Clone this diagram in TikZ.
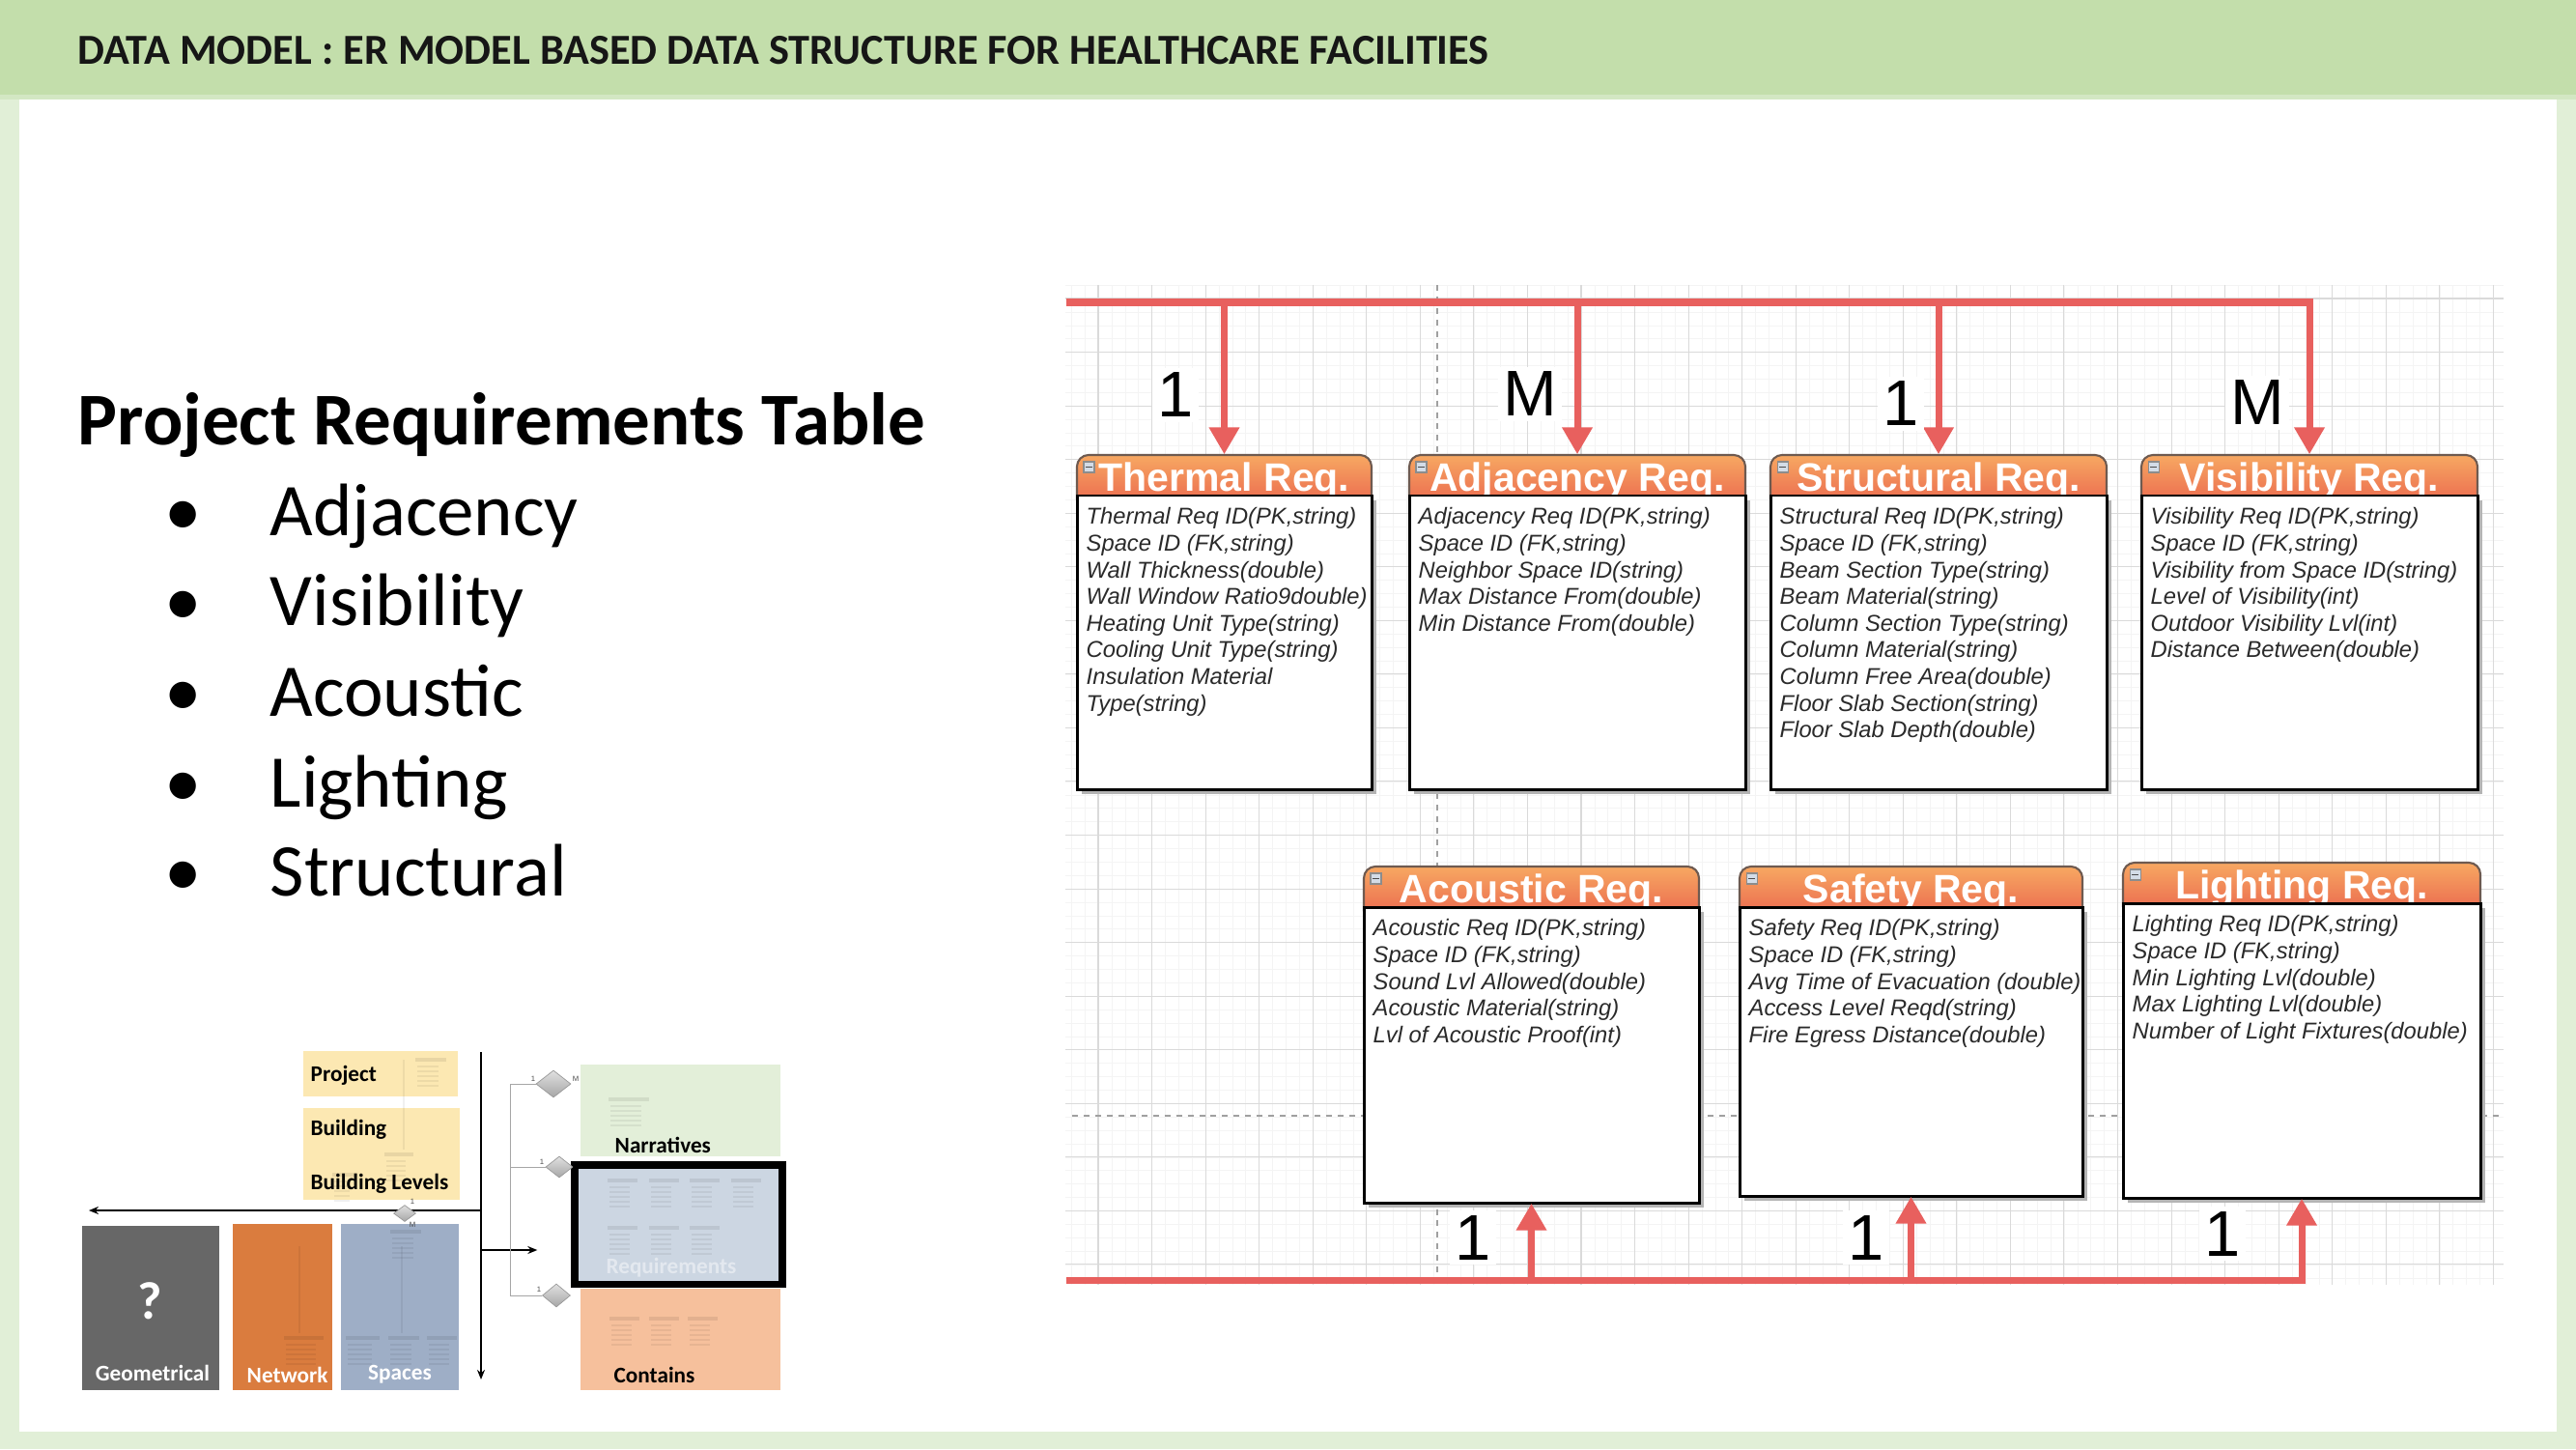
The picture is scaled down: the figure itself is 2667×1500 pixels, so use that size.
\documentclass[tikz,border=0pt]{standalone}
\usepackage{fontspec}
\setmainfont{Carlito}
\newfontfamily\arialfont{Liberation Sans}
\usetikzlibrary{arrows.meta,fit,shapes.geometric}

% page colours
\definecolor{bandgreen}{HTML}{C3DEAB}
\definecolor{bandedge}{HTML}{D3E7C3}
\definecolor{stripgreen}{HTML}{E1EFD7}
\definecolor{titleink}{HTML}{161616}
% ER canvas colours
\definecolor{gridminorc}{HTML}{F4F4F4}
\definecolor{gridmajorc}{HTML}{DADADA}
\definecolor{guidec}{HTML}{A0A0A0}
\definecolor{relred}{HTML}{E8605E}
\definecolor{hdtop}{HTML}{F7A862}
\definecolor{hdbot}{HTML}{E9604C}
\definecolor{hdedge}{HTML}{6E5A50}
\definecolor{bodyc}{HTML}{2A2A2A}
\definecolor{shadowc}{HTML}{B4B4B4}
\definecolor{iconfill}{HTML}{D3DCE7}
% overview diagram colours
\definecolor{paleyellow}{HTML}{FCE8B2}
\definecolor{palegreen}{HTML}{E3EFD9}
\definecolor{paleorange}{HTML}{F6C09C}
\definecolor{geogray}{HTML}{676767}
\definecolor{netorange}{HTML}{DA7C3E}
\definecolor{spaceblue}{HTML}{9EAEC6}
\definecolor{reqfill}{HTML}{CCD6E2}

\tikzset{
  gridminor/.style={draw=gridminorc, line width=0.15pt},
  gridmajor/.style={draw=gridmajorc, line width=0.3pt},
  guide/.style={draw=guidec, line width=0.5pt, dash pattern=on 1.7pt off 1.7pt},
  relline/.style={draw=relred, line width=2pt, -{Triangle[length=0.28cm,width=0.3cm]}},
  card/.style={font=\arialfont\fontsize{19}{20}\selectfont, fill=white, inner sep=1.5pt, text=black},
  hdtitle/.style={font=\arialfont\bfseries\fontsize{11.66}{12}\selectfont, text=white, inner sep=0pt},
  bodytext/.style={font=\arialfont\itshape\fontsize{6.75}{7.85}\selectfont, text=bodyc, align=left, inner sep=0pt},
  bodybox/.style={draw=black, line width=0.85pt, fill=white},
  hdshade/.style={top color=hdtop, bottom color=hdbot, draw=hdedge, line width=0.6pt},
  framebox/.style={inner sep=0pt, draw=none},
  minilabel/.style={font=\bfseries\fontsize{6.6}{7}\selectfont, inner sep=0pt},
  miniarrow/.style={draw=black, line width=0.45pt, -{Stealth[length=0.1cm,width=0.08cm]}},
  minithin/.style={draw=black!35, line width=0.25pt},
  minidiamond/.style={shape=diamond, inner sep=0pt, draw=black!40, line width=0.2pt, top color=black!12, bottom color=black!35},
  minitiny/.style={font=\arialfont\fontsize{2.2}{2.4}\selectfont, inner sep=0pt, text=black!70},
  faintbar/.style={fill=black, opacity=0.08},
  faintline/.style={draw=black, opacity=0.06, line width=0.3pt},
  listtext/.style={font=\fontsize{21.9}{24}\selectfont, anchor=base west, inner sep=0pt},
  listdot/.style={font=\fontsize{21.9}{24}\selectfont, anchor=base, inner sep=0pt},
}

% one entity table: name, x1, top, x2, header bottom, bottom, title, attributes
\newcommand{\ertable}[8]{%
  \node[framebox, fit={(#2,#3) (#4,#6)}] (#1) {};
  \fill[shadowc] (#2+5,#5+5) rectangle (#4+5,#6+5);
  \path[hdshade, rounded corners=0.12cm] (#2,#3) rectangle (#4,#5+16);
  \begin{scope}
    \clip (#2,#3) rectangle (#4,#5);
    \node[hdtitle, anchor=base] (#1-title) at ({(#2+#4)/2},#5-5) {#7};
  \end{scope}
  \draw[fill=iconfill, draw=black!45, line width=0.3pt] (#2+7,#3+7) rectangle (#2+18,#3+18);
  \draw[black!70, line width=0.5pt] (#2+9,#3+12.5) -- (#2+16,#3+12.5);
  \draw[bodybox] (#2,#5) rectangle (#4,#6);
  \node[bodytext, anchor=north west] (#1-attrs) at (#2+9,#5+12) {#8};
}

\begin{document}
\begin{tikzpicture}[x=0.01cm,y=-0.01cm]
\useasboundingbox (0,0) rectangle (2667,1500);

% ---------- slide frame ----------
\fill[white] (0,0) rectangle (2667,1500);
\fill[stripgreen] (0,98) rectangle (20,1500);
\fill[stripgreen] (2647,98) rectangle (2667,1500);
\fill[stripgreen] (0,1482) rectangle (2667,1500);
\fill[bandgreen] (0,0) rectangle (2667,98);
\fill[bandedge] (0,98) rectangle (2667,103);
\node[anchor=base west, inner sep=0pt, text=titleink, font=\bfseries\fontsize{12.6}{14}\selectfont]
  (pagetitle) at (80,67) {DATA MODEL : ER MODEL BASED DATA STRUCTURE FOR HEALTHCARE FACILITIES};

% ---------- requirement list ----------
\node[anchor=base west, inner sep=0pt, font=\bfseries\fontsize{21.9}{24}\selectfont]
  (listhead) at (80,460) {Project Requirements Table};
\foreach \t/\yy [count=\k] in {Adjacency/554, Visibility/647, Acoustic/741, Lighting/835, Structural/927} {
  \node[listdot] (dot\k) at (190,\yy) {\textbullet};
  \node[listtext] (item\k) at (279,\yy) {\t};
}

% ---------- ER canvas grid ----------
\foreach \i in {0,...,106} { \draw[gridminor] ({1109.2+13.8875*\i},295) -- ({1109.2+13.8875*\i},1330); }
\foreach \j in {0,...,74}  { \draw[gridminor] (1103,{295.1+13.8875*\j}) -- (2592,{295.1+13.8875*\j}); }
\foreach \i in {0,...,26}  { \draw[gridmajor] ({1137+55.55*\i},295) -- ({1137+55.55*\i},1330); }
\foreach \j in {0,...,18}  { \draw[gridmajor] (1103,{309+55.55*\j}) -- (2592,{309+55.55*\j}); }
\draw[guide] (1488,295) -- (1488,1330);
\draw[guide] (1110,1155) -- (2592,1155);

% ---------- entity tables ----------
\ertable{thermal}{1115}{471}{1420}{513}{817}{Thermal Req.}{Thermal Req ID(PK,string)\\Space ID (FK,string)\\Wall Thickness(double)\\Wall Window Ratio9double)\\Heating Unit Type(string)\\Cooling Unit Type(string)\\Insulation Material\\Type(string)}
\ertable{adjacency}{1459}{471}{1807}{513}{817}{Adjacency Req.}{Adjacency Req ID(PK,string)\\Space ID (FK,string)\\Neighbor Space ID(string)\\Max Distance From(double)\\Min Distance From(double)}
\ertable{structural}{1833}{471}{2181}{513}{817}{Structural Req.}{Structural Req ID(PK,string)\\Space ID (FK,string)\\Beam Section Type(string)\\Beam Material(string)\\Column Section Type(string)\\Column Material(string)\\Column Free Area(double)\\Floor Slab Section(string)\\Floor Slab Depth(double)}
\ertable{visibility}{2217}{471}{2565}{513}{817}{Visibility Req.}{Visibility Req ID(PK,string)\\Space ID (FK,string)\\Visibility from Space ID(string)\\Level of Visibility(int)\\Outdoor Visibility Lvl(int)\\Distance Between(double)}
\ertable{acoustic}{1412}{897}{1759}{939}{1245}{Acoustic Req.}{Acoustic Req ID(PK,string)\\Space ID (FK,string)\\Sound Lvl Allowed(double)\\Acoustic Material(string)\\Lvl of Acoustic Proof(int)}
\ertable{safety}{1801}{897}{2156}{939}{1238}{Safety Req.}{Safety Req ID(PK,string)\\Space ID (FK,string)\\Avg Time of Evacuation (double)\\Access Level Reqd(string)\\Fire Egress Distance(double)}
\ertable{lighting}{2198}{893}{2568}{935}{1240}{Lighting Req.}{Lighting Req ID(PK,string)\\Space ID (FK,string)\\Min Lighting Lvl(double)\\Max Lighting Lvl(double)\\Number of Light Fixtures(double)}

% ---------- relationship buses ----------
\coordinate (topbus) at (1104,313);
\coordinate (botbus) at (1104,1325);
\draw[relline] (topbus) -| (thermal.north);
\draw[relline] (topbus) -| (adjacency.north);
\draw[relline] (topbus) -| (structural.north);
\draw[relline] (topbus) -| (visibility.north);
\draw[relline] (botbus) -| (acoustic.south);
\draw[relline] (botbus) -| (safety.south);
\draw[relline] (botbus) -| (lighting.south);

\node[card] (c-thermal) at (1217,409) {1};
\node[card] (c-adjacency) at (1584,408) {M};
\node[card] (c-structural) at (1968,418) {1};
\node[card] (c-visibility) at (2337,417) {M};
\node[card] (c-acoustic) at (1525,1281) {1};
\node[card] (c-safety) at (1932,1281) {1};
\node[card] (c-lighting) at (2301,1277) {1};

% ---------- overview of the data model ----------
\node[framebox, fill=paleyellow, fit={(314,1088) (474,1135)}] (mproject) {};
\node[framebox, fill=paleyellow, fit={(314,1147) (476,1242)}] (mbuilding) {};
\node[framebox, fill=geogray, fit={(85,1269) (227,1439)}] (mgeo) {};
\node[framebox, fill=netorange, fit={(241,1267) (344,1439)}] (mnet) {};
\node[framebox, fill=spaceblue, fit={(353,1267) (475,1439)}] (mspaces) {};
\node[framebox, fill=palegreen, fit={(601,1102) (808,1197)}] (mnarr) {};
\node[framebox, fill=paleorange, fit={(601,1334) (808,1439)}] (mcontains) {};
\node[framebox, fill=reqfill, draw=black, line width=2pt, fit={(595,1206) (810,1329)}] (mreq) {};

% faint miniature tables inside the overview blocks
\foreach \xa/\ya/\xb in {430/1095/462, 398/1193/428, 344/1214/370, 404/1273/436, 358/1383/393, 402/1383/434, 442/1383/473, 294/1383/335, 630/1136/672, 631/1363/662, 672/1363/703, 712/1363/743, 629/1220/660, 672/1220/703, 714/1220/745, 757/1220/788, 629/1269/660, 672/1269/703, 714/1269/745} {
  \fill[faintbar] (\xa,\ya) rectangle (\xb,\ya+4);
  \foreach \r in {1,...,5} { \draw[faintline] (\xa+2,\ya+4+\r*5) -- (\xb-8,\ya+4+\r*5); }
}
\draw[faintline] (418,1097) -- (418,1190);
\draw[faintline] (416,1290) -- (416,1380);
\draw[faintline] (310,1290) -- (310,1380);

\node[minilabel, anchor=base west] (lproject) at (321,1119) {Project};
\node[minilabel, anchor=base west] (lbuilding) at (321,1175) {Building};
\node[minilabel, anchor=base west] (llevels) at (321,1231) {Building Levels};
\node[minilabel, anchor=base west] (lnarr) at (636,1193) {Narratives};
\node[minilabel, anchor=base west] (lcontains) at (635,1431) {Contains};
\node[minilabel, anchor=base, text=white] (lgeo) at (158,1429) {Geometrical};
\node[minilabel, anchor=base west, text=white] (lnet) at (255,1431) {Network};
\node[minilabel, anchor=base, text=white] (lspaces) at (414,1428) {Spaces};
\node[minilabel, anchor=base, text=white, opacity=0.45] (lreq) at (695,1318) {Requirements};
\node[font=\bfseries\fontsize{15.6}{16}\selectfont, text=white, inner sep=0pt] (qmark) at (155,1347) {?};

% main axis lines of the overview
\coordinate (axistop) at (498,1089);
\coordinate (axisbot) at (498,1428);
\coordinate (axisleft) at (92,1253);
\coordinate (axismid) at (498,1253);
\coordinate (axisreq) at (498,1294);
\draw[miniarrow] (axistop) -- (axisbot);
\draw[miniarrow] (axismid) -- (axisleft);
\draw[miniarrow, shorten >=10] (axisreq) -- (axisreq -| mreq.west);

% relationship diamonds of the overview
\node[minidiamond, minimum width=0.36cm, minimum height=0.28cm] (dnarr) at (573,1122) {};
\node[minidiamond, minimum width=0.28cm, minimum height=0.22cm] (dreq) at (579,1208) {};
\node[minidiamond, minimum width=0.29cm, minimum height=0.24cm] (dcont) at (576,1341) {};
\node[minidiamond, minimum width=0.23cm, minimum height=0.17cm] (dspace) at (419,1256) {};
\coordinate (branch) at (528,1122);
\draw[minithin] (branch) -- (528,1341);
\draw[minithin] (branch) -- (dnarr.west);
\draw[minithin] (528,1208) -- (dreq.west);
\draw[minithin] (528,1341) -- (dcont.west);
\node[minitiny] (t1) at (552,1117) {1};
\node[minitiny] (t2) at (596,1117) {M};
\node[minitiny] (t3) at (561,1203) {1};
\node[minitiny] (t4) at (558,1335) {1};
\node[minitiny] (t5) at (427,1244) {1};
\node[minitiny] (t6) at (427,1268) {M};

\end{tikzpicture}
\end{document}
